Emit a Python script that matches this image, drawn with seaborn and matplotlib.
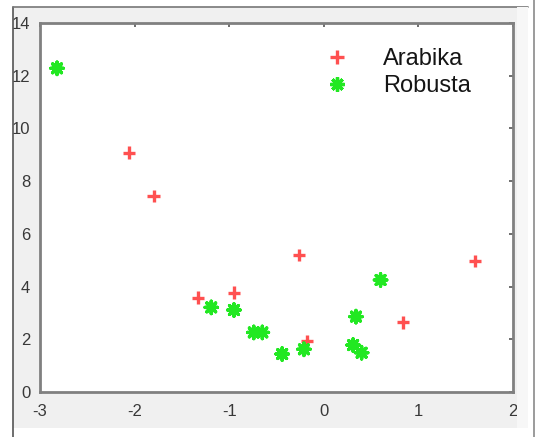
import pandas as pd
import matplotlib
matplotlib.use("Agg")
import matplotlib.pyplot as plt
from matplotlib.patches import Rectangle
from matplotlib.lines import Line2D
import seaborn as sns

# values
arabika_x = [-2.06, -1.80, -1.33, -0.95, -0.26, -0.18, 0.835, 1.60]
arabika_y = [9.08, 7.44, 3.58, 3.77, 5.20, 1.93, 2.64, 4.98]
robusta_x = [-2.82, -1.19, -0.95, -0.74, -0.65, -0.44, -0.21, 0.31, 0.34, 0.40, 0.60]
robusta_y = [12.28, 3.21, 3.11, 2.26, 2.26, 1.44, 1.62, 1.78, 2.86, 1.49, 4.25]
x_ticks = [-3, -2, -1, 0, 1, 2]
y_ticks = [0, 2, 4, 6, 8, 10, 12, 14]

df = pd.concat([
    pd.DataFrame({"x": arabika_x, "y": arabika_y, "variety": "Arabika"}),
    pd.DataFrame({"x": robusta_x, "y": robusta_y, "variety": "Robusta"}),
], ignore_index=True)

sns.set_style("white")
plt.rcParams["font.family"] = ["Liberation Sans", "DejaVu Sans"]
plt.rcParams["axes.unicode_minus"] = False

W, H = 537, 437
fig = plt.figure(figsize=(W / 100, H / 100), dpi=100, facecolor="white")


def fx(px):
    return px / W


def fy(py):
    return 1 - py / H


# window-like gray background behind the axes
fig.add_artist(Rectangle((fx(13), fy(428)), fx(517) - fx(13), fy(7) - fy(428),
                         transform=fig.transFigure, facecolor="#f0f0f0",
                         edgecolor="none", zorder=-2))
fig.add_artist(Line2D([fx(13), fx(13)], [fy(7), fy(437)], color="#555555", lw=1.2))
fig.add_artist(Line2D([fx(13), fx(528)], [fy(7), fy(7)], color="#777777", lw=1.2))
fig.add_artist(Line2D([fx(534), fx(534)], [0, 1], color="#8a8a8a", lw=1.2))

ax = fig.add_axes([fx(40), fy(392), fx(513) - fx(40), fy(23) - fy(392)])
ax.set_facecolor("white")

sns.scatterplot(
    data=df, x="x", y="y", hue="variety", style="variety",
    palette={"Arabika": "#ff5050", "Robusta": "#22e822"},
    markers={"Arabika": "+", "Robusta": (8, 2, 0)},
    s=80, linewidth=2.4, ax=ax,
)

ax.set_xlim(-3, 2)
ax.set_ylim(0, 14)
ax.set_xticks(x_ticks)
ax.set_yticks(y_ticks)
ax.set_xlabel("")
ax.set_ylabel("")
for sp in ax.spines.values():
    sp.set_color("#808080")
    sp.set_linewidth(2)
ax.tick_params(direction="in", length=3, width=1.2, color="#555555",
               top=True, right=True, labelsize=12, labelcolor="#383838")
ax.tick_params(axis="x", pad=9)
ax.tick_params(axis="y", pad=7)

leg = ax.legend(loc="upper left", frameon=False, fontsize=17,
                bbox_to_anchor=(fx(325), fy(48)), bbox_transform=fig.transFigure,
                borderpad=0, borderaxespad=0, handlelength=1.0,
                handletextpad=1.45, labelspacing=0.22, markerscale=1.15)
for t in leg.get_texts():
    t.set_color("#151515")

# light strip on the right edge that cuts off the last tick label
fig.add_artist(Rectangle((fx(517), fy(428)), fx(528) - fx(517), fy(7) - fy(428),
                         transform=fig.transFigure, facecolor="#f7f7f7",
                         edgecolor="none", zorder=5))

fig.savefig("out.png", dpi=100, facecolor="white")
